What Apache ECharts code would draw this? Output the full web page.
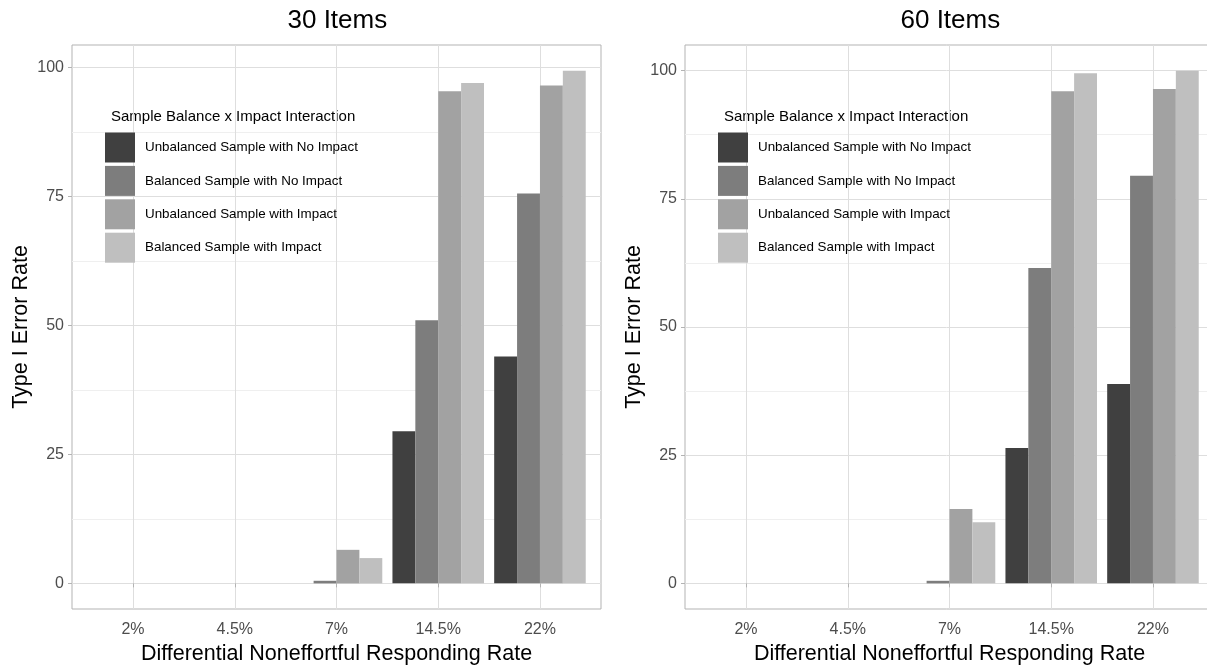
<!DOCTYPE html>
<html>
<head>
<meta charset="utf-8">
<script src="https://cdn.jsdelivr.net/npm/echarts@6/dist/echarts.min.js"></script>
<style>
  html, body { margin: 0; padding: 0; background: #fff; }
  #chart { width: 1207px; height: 667px; }
</style>
</head>
<body>
<div id="chart"></div>
<script>
// categorias del eje x
const categories = ['2%', '4.5%', '7%', '14.5%', '22%'];
const seriesNames = [
  'Unbalanced Sample with No Impact',
  'Balanced Sample with No Impact',
  'Unbalanced Sample with Impact',
  'Balanced Sample with Impact'
];
const colors = ['#404040', '#7d7d7d', '#a2a2a2', '#bfbfbf'];

// 30 items
const unbalNoImpact30 = [0, 0, 0, 29.5, 44.0];
const balNoImpact30 = [0, 0, 0.5, 51.0, 75.6];
const unbalImpact30 = [0, 0, 6.5, 95.4, 96.5];
const balImpact30 = [0, 0, 4.9, 97.0, 99.4];

// 60 items
const unbalNoImpact60 = [0, 0, 0, 26.4, 38.9];
const balNoImpact60 = [0, 0, 0.5, 61.5, 79.5];
const unbalImpact60 = [0, 0, 14.5, 96.0, 96.4];
const balImpact60 = [0, 0, 11.9, 99.5, 100];

const yTicks = [0, 25, 50, 75, 100];
const yMinorTicks = [12.5, 37.5, 62.5, 87.5];

const panels = [
  { title: '30 Items', left: 72, yMin: -4.97, yMax: 104.37,
    data: [unbalNoImpact30, balNoImpact30, unbalImpact30, balImpact30] },
  { title: '60 Items', left: 685, yMin: -5, yMax: 105,
    data: [unbalNoImpact60, balNoImpact60, unbalImpact60, balImpact60] }
];

const PANEL_W = 529;
const TOP = 45;
const BOTTOM = 58;
const pad = PANEL_W / 5.2 * 0.1;  // ggplot expande 0.6 en vez de 0.5

const grid = [];
const xAxis = [];
const yAxis = [];
const series = [];
const legend = [];
const graphic = [];

panels.forEach((p, i) => {
  // grid del marco (ejes y + borde)
  grid.push({ left: p.left, top: TOP, width: PANEL_W, bottom: BOTTOM, outerBoundsMode: 'none',
    show: true, borderColor: '#b3b3b3', borderWidth: 1, backgroundColor: 'transparent' });
  // grid de las barras
  grid.push({ left: p.left + pad, top: TOP, width: PANEL_W - 2 * pad, bottom: BOTTOM, outerBoundsMode: 'none' });

  const gFrame = i * 2;
  const gBars = i * 2 + 1;

  xAxis.push({ type: 'value', gridIndex: gFrame, min: 0, max: 1, show: false });
  xAxis.push({
    type: 'category', gridIndex: gBars, data: categories,
    axisLine: { show: false },
    axisTick: { show: true, alignWithLabel: true, length: 4, lineStyle: { color: '#b3b3b3' } },
    axisLabel: { fontSize: 16, color: '#4d4d4d', margin: 13, fontFamily: 'Liberation Sans' },
    splitLine: { show: true, alignWithLabel: true, lineStyle: { color: '#dedede', width: 1 } },
    name: 'Differential Noneffortful Responding Rate',
    nameLocation: 'middle', nameGap: 28,
    nameTextStyle: { fontSize: 21.5, color: '#000', fontFamily: 'Liberation Sans' }
  });

  yAxis.push({
    type: 'value', gridIndex: gFrame, min: p.yMin, max: p.yMax,
    axisLine: { show: false },
    axisTick: { show: true, length: 4, customValues: yTicks, lineStyle: { color: '#b3b3b3' } },
    axisLabel: { fontSize: 16, color: '#4d4d4d', margin: 8, customValues: yTicks, fontFamily: 'Liberation Sans' },
    splitLine: { show: true, lineStyle: { color: '#dedede', width: 1 } },
    name: 'Type I Error Rate', nameLocation: 'middle', nameGap: 40,
    nameTextStyle: { fontSize: 21.5, color: '#000', fontFamily: 'Liberation Sans' }
  });
  yAxis.push({
    type: 'value', gridIndex: gFrame, min: p.yMin, max: p.yMax, position: 'right',
    axisLine: { show: false },
    axisTick: { show: false, customValues: yMinorTicks },
    axisLabel: { show: false, customValues: yMinorTicks },
    splitLine: { show: true, lineStyle: { color: '#efefef', width: 1 } }
  });
  yAxis.push({ type: 'value', gridIndex: gBars, min: p.yMin, max: p.yMax, show: false });

  p.data.forEach((vals, k) => {
    series.push({
      name: seriesNames[k], type: 'bar',
      xAxisIndex: gBars, yAxisIndex: i * 3 + 2,
      data: vals, barGap: '0%', barCategoryGap: '10%',
      itemStyle: { color: colors[k], borderWidth: 0 }
    });
  });

  legend.push({
    orient: 'vertical', left: p.left + 33, top: 132.5, padding: 0,
    itemWidth: 30, itemHeight: 30, itemGap: 3.4, icon: 'rect',
    data: seriesNames,
    textStyle: { fontSize: 13.4, color: '#000', padding: [0, 0, 0, 5], fontFamily: 'Liberation Sans' }
  });

  graphic.push({
    type: 'text', left: p.left + PANEL_W / 2 - 49, top: 8,
    style: { text: p.title, font: '26px "Liberation Sans"', fill: '#000' }
  });
  graphic.push({
    type: 'text', left: p.left + 39, top: 109,
    style: { text: 'Sample Balance x Impact Interaction', font: '15px "Liberation Sans"', fill: '#000' }
  });
});

const chart = echarts.init(document.getElementById('chart'));
chart.setOption({
  animation: false,
  backgroundColor: '#fff',
  color: colors,
  grid, xAxis, yAxis, series, legend, graphic
});
</script>
</body>
</html>
